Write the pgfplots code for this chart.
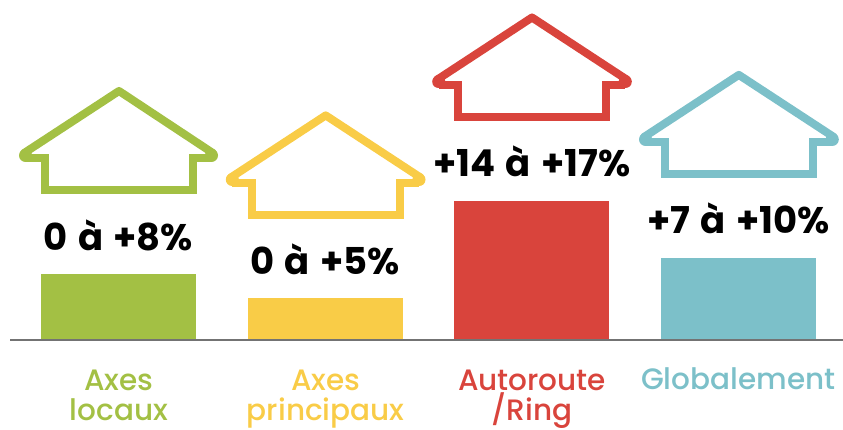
\documentclass[border=0pt]{standalone}
\usepackage{pgfplots}
\pgfplotsset{compat=1.18}
\usepackage{fontspec}
\setmainfont[WordSpace=1.3]{Poppins}
\newfontfamily\lab{Poppins Medium}
\definecolor{cg}{HTML}{A3C044}
\definecolor{cy}{HTML}{F9CC47}
\definecolor{cr}{HTML}{D9443C}
\definecolor{ct}{HTML}{7CC0C9}
\pgfplotsset{
  common/.style={width=843pt,height=430pt,scale only axis,hide axis,clip=false,at={(0,0)},anchor=south west},
  wall/.style={line width=8pt,line join=miter,line cap=butt,mark=none},
  roof/.style={line width=8pt,line join=round,line cap=round,mark=none},
  tip/.style={line width=13pt,line cap=round,mark=none},
}
\tikzset{lbl/.style={anchor=base,inner sep=0pt,font=\lab\fontsize{29.5}{33}\selectfont}}
\begin{document}
\begin{tikzpicture}
\path[use as bounding box] (0,0) rectangle (843pt,430pt);
% bars, in percent
\begin{axis}[common,
  xmin=-0.5734,xmax=3.5056,ymin=-11.207,ymax=41.749,
  ybar,bar width=155pt,bar shift=0pt,
  point meta=explicit symbolic,
  nodes near coords,
  every node near coord/.append style={anchor=base,inner sep=0pt,yshift=24pt,text=black,font=\fontsize{37}{40}\selectfont\bfseries},
]
\addplot[fill=cg,draw=none] table[meta=l,col sep=comma]{
x,y,l
0,8,0 à +8\%
};
\addplot[fill=cy,draw=none] table[meta=l,col sep=comma]{
x,y,l
1,5,0 à +5\%
};
\addplot[fill=cr,draw=none] table[meta=l,col sep=comma]{
x,y,l
2,17,+14 à +17\%
};
\addplot[fill=ct,draw=none] table[meta=l,col sep=comma]{
x,y,l
3,10,+7 à +10\%
};
\end{axis}
% baseline, houses and category names, in picture pixels
\begin{axis}[common,xmin=0,xmax=843,ymin=0,ymax=430,y dir=reverse]
\addplot[color=black!55,line width=2pt,mark=none] coordinates {(10,339.5) (843,339.5)};
% green
\addplot[wall,cg] coordinates {(25.5,158.5) (45.3,158.5) (45.3,190.3) (193,190.3) (193,158.5) (211.5,158.5)};
\addplot[roof,cg] coordinates {(23.9,153.2) (119,91) (213.1,153.2)};
\addplot[tip,cg] coordinates {(25.5,155.5) (25.6,155.5)};
\addplot[tip,cg] coordinates {(211.4,155.5) (211.5,155.5)};
% yellow
\addplot[wall,cy] coordinates {(232.3,182.9) (251.8,182.9) (251.8,214.7) (399.7,214.7) (399.7,182.9) (419,182.9)};
\addplot[roof,cy] coordinates {(230.7,177.6) (325.7,115.4) (420.6,177.6)};
\addplot[tip,cy] coordinates {(232.3,179.9) (232.4,179.9)};
\addplot[tip,cy] coordinates {(418.9,179.9) (419,179.9)};
% red
\addplot[wall,cr] coordinates {(438.7,85) (458.3,85) (458.3,117) (605.8,117) (605.8,85) (625.3,85)};
\addplot[roof,cr] coordinates {(437.1,79.7) (532,17.5) (626.9,79.7)};
\addplot[tip,cr] coordinates {(438.7,82) (438.8,82)};
\addplot[tip,cr] coordinates {(625.2,82) (625.3,82)};
% teal
\addplot[wall,ct] coordinates {(645.5,142.4) (665.2,142.4) (665.2,174.2) (812.5,174.2) (812.5,142.4) (832.3,142.4)};
\addplot[roof,ct] coordinates {(643.9,137.1) (738.8,74.9) (833.9,137.1)};
\addplot[tip,ct] coordinates {(645.5,139.4) (645.6,139.4)};
\addplot[tip,ct] coordinates {(832.2,139.4) (832.3,139.4)};
\node[lbl,text=cg] at (axis cs:119,390) {Axes};
\node[lbl,text=cg] at (axis cs:119,420) {locaux};
\node[lbl,text=cy] at (axis cs:325.7,390) {Axes};
\node[lbl,text=cy] at (axis cs:325.7,420) {principaux};
\node[lbl,text=cr] at (axis cs:532,390) {Autoroute};
\node[lbl,text=cr] at (axis cs:532,420) {/Ring};
\node[lbl,text=ct] at (axis cs:738.3,389.5) {Globalement};
\end{axis}
\end{tikzpicture}
\end{document}
